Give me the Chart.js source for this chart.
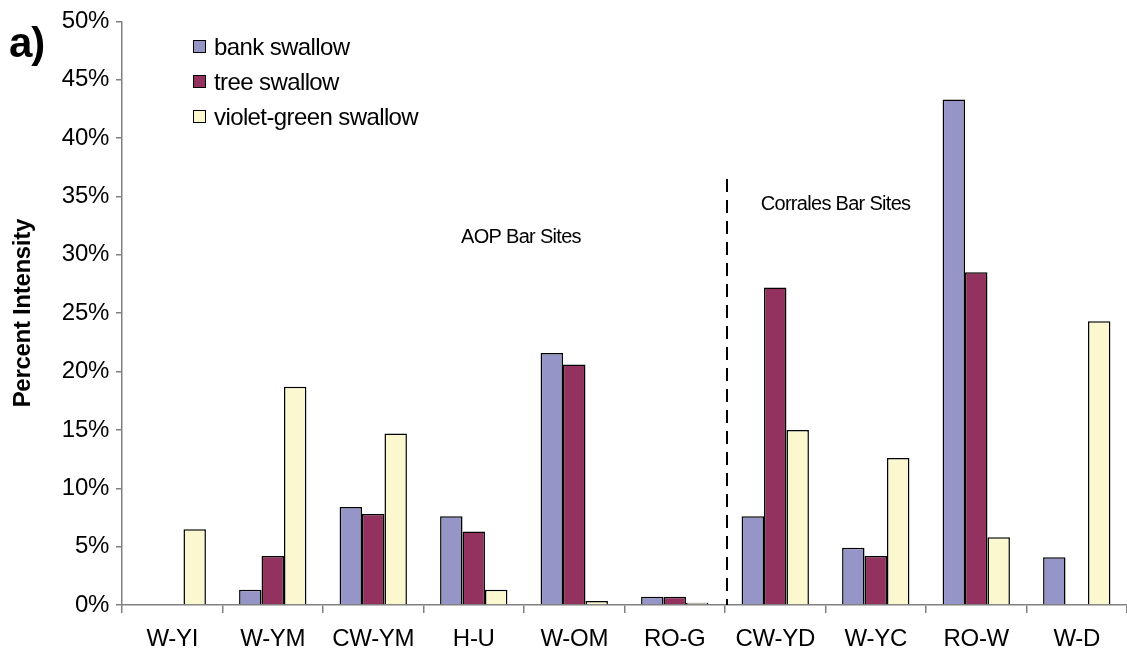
<!DOCTYPE html>
<html>
<head>
<meta charset="utf-8">
<script src="https://cdn.jsdelivr.net/npm/chart.js@4"></script>
<style>
  html, body { margin: 0; padding: 0; background: #fff; }
  #wrap { width: 1127px; height: 651px; position: relative; }
</style>
</head>
<body>
<div id="wrap"><canvas id="c"></canvas></div>
<script>
// Sites along the river, grouped AOP bars then Corrales bars
const sites = ['W-YI', 'W-YM', 'CW-YM', 'H-U', 'W-OM', 'RO-G', 'CW-YD', 'W-YC', 'RO-W', 'W-D'];
// Percent intensity per species
const bankSwallow = [0, 1.3, 8.4, 7.6, 21.6, 0.7, 7.6, 4.9, 43.3, 4.1];
const treeSwallow = [0, 4.2, 7.8, 6.3, 20.6, 0.7, 27.2, 4.2, 28.5, 0];
const violetGreenSwallow = [6.5, 18.7, 14.7, 1.3, 0.35, 0.2, 15.0, 12.6, 5.8, 24.3];
const yTicks = [0, 5, 10, 15, 20, 25, 30, 35, 40, 45, 50];
const groupLabels = ['AOP Bar Sites', 'Corrales Bar Sites'];
const firstCorralesIndex = 6;

const FONT = '"Liberation Sans", Arial, sans-serif';

// Panel letter, group divider, group captions and the legend box
const annotations = {
  id: 'annotations',
  beforeDraw(chart) {
    chart.ctx.letterSpacing = '-0.3px';
  },
  afterDraw(chart) {
    const ctx = chart.ctx;
    const x = chart.scales.x, y = chart.scales.y;
    ctx.save();
    // dashed divider between the two site groups
    const divX = (x.getPixelForValue(firstCorralesIndex - 1) + x.getPixelForValue(firstCorralesIndex)) / 2 + 2;
    ctx.strokeStyle = '#000';
    ctx.lineWidth = 2;
    ctx.setLineDash([13, 8]);
    ctx.beginPath();
    ctx.moveTo(divX, y.getPixelForValue(36.5));
    ctx.lineTo(divX, y.getPixelForValue(0));
    ctx.stroke();
    ctx.setLineDash([]);

    // group captions
    ctx.letterSpacing = '-0.7px';
    ctx.fillStyle = '#000';
    ctx.font = '20px ' + FONT;
    ctx.textAlign = 'center';
    ctx.textBaseline = 'middle';
    ctx.fillText(groupLabels[0], x.getPixelForValue(3.47), y.getPixelForValue(31.5));
    ctx.fillText(groupLabels[1], x.getPixelForValue(6.6), y.getPixelForValue(34.3));

    // panel letter
    ctx.letterSpacing = '-1px';
    ctx.font = 'bold 42px ' + FONT;
    ctx.textAlign = 'left';
    ctx.fillText('a)', 9, 45);

    // legend
    const rows = [47, 82, 117];
    ctx.letterSpacing = '-0.6px';
    ctx.font = '24px ' + FONT;
    chart.data.datasets.forEach((ds, i) => {
      const cy = rows[i];
      ctx.fillStyle = ds.backgroundColor;
      ctx.fillRect(193, cy - 7, 13, 13);
      ctx.strokeStyle = '#000';
      ctx.lineWidth = 1;
      ctx.strokeRect(193.5, cy - 6.5, 12, 12);
      ctx.fillStyle = '#000';
      ctx.textAlign = 'left';
      ctx.fillText(ds.label, 214, cy + 1);
    });
    ctx.restore();
  }
};

const barStyle = { borderColor: '#000', borderWidth: 1.5, borderSkipped: 'start' };

new Chart(document.getElementById('c'), {
  type: 'bar',
  data: {
    labels: sites,
    datasets: [
      Object.assign({ label: 'bank swallow', data: bankSwallow, backgroundColor: '#9595c8' }, barStyle),
      Object.assign({ label: 'tree swallow', data: treeSwallow, backgroundColor: '#93325f' }, barStyle),
      Object.assign({ label: 'violet-green swallow', data: violetGreenSwallow, backgroundColor: '#fbf8cf' }, barStyle)
    ]
  },
  options: {
    responsive: true,
    maintainAspectRatio: false,
    animation: false,
    layout: { padding: { top: 20, right: 0, left: 0, bottom: 0 } },
    plugins: { legend: { display: false }, tooltip: { enabled: false } },
    datasets: { bar: { categoryPercentage: 0.67, barPercentage: 1.0 } },
    scales: {
      x: {
        offset: true,
        grid: { offset: true, drawOnChartArea: false, tickLength: 8, color: '#808080', lineWidth: 1.5 },
        border: { color: '#808080', width: 1.5 },
        ticks: { color: '#000', font: { family: FONT, size: 24 }, padding: 12, maxRotation: 0, autoSkip: false },
        afterFit(scale) { scale.height = 46; }
      },
      y: {
        min: 0,
        max: 50,
        afterBuildTicks(scale) { scale.ticks = yTicks.map(v => ({ value: v })); },
        grid: { drawOnChartArea: false, tickLength: 6, color: '#808080', lineWidth: 1.5 },
        border: { color: '#808080', width: 1.5 },
        ticks: { color: '#000', font: { family: FONT, size: 24 }, padding: 7, callback: v => v + '%' },
        title: { display: true, text: 'Percent Intensity', color: '#000', font: { family: FONT, size: 24, weight: 'bold' }, padding: { top: 9, bottom: 0 } },
        afterFit(scale) { scale.width = 122; }
      }
    }
  },
  plugins: [annotations]
});
</script>
</body>
</html>
